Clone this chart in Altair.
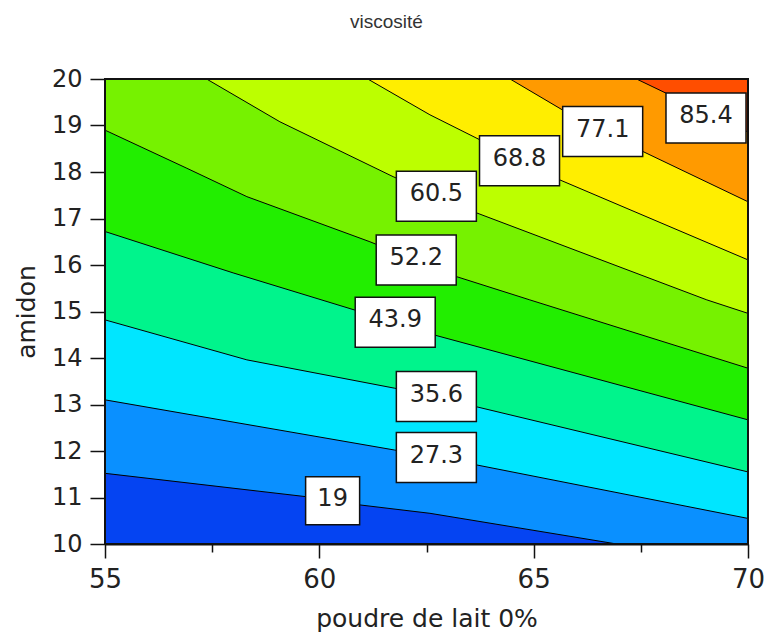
import altair as alt
import pandas as pd

chart_title = "viscosité"
x_title = "poudre de lait 0%"
y_title = "amidon"

x_ticks = [55, 57.5, 60, 62.5, 65, 67.5, 70]
y_ticks = [10, 10.5, 11, 11.5, 12, 12.5, 13, 13.5, 14, 14.5, 15, 15.5,
           16, 16.5, 17, 17.5, 18, 18.5, 19, 19.5, 20]

# contour levels (bottom to top)
levels = ["19", "27.3", "35.6", "43.9", "52.2", "60.5", "68.8", "77.1", "85.4"]

# contour line vertices
c19_x = [55, 59.67, 60.95, 62.58, 66.94]
c19_y = [11.52, 11.02, 10.84, 10.66, 10.0]
c27_x = [55, 61.76, 63.67, 70]
c27_y = [13.10, 12.02, 11.70, 10.55]
c35_x = [55, 58.31, 61.76, 63.67, 70]
c35_y = [14.82, 13.96, 13.35, 12.95, 11.55]
c43_x = [55, 57.99, 60.83, 62.70, 70]
c43_y = [16.72, 15.83, 15.03, 14.49, 12.67]
c52_x = [55, 56.91, 58.31, 61.18, 63.20, 64.91, 70]
c52_y = [18.90, 18.08, 17.47, 16.50, 15.75, 15.25, 13.78]
c60_x = [57.37, 59.08, 61.72, 63.67, 69.04, 70]
c60_y = [20.0, 19.08, 17.90, 17.12, 15.25, 14.96]
c68_x = [61.13, 62.58, 63.75, 65.61, 70]
c68_y = [20.0, 19.23, 18.69, 17.83, 16.11]
c77_x = [64.45, 65.68, 67.55, 70]
c77_y = [20.0, 19.33, 18.44, 17.36]
c85_x = [67.40, 68.10, 70]
c85_y = [20.0, 19.69, 18.86]

# label box centres
label_x = [60.31, 62.73, 62.73, 61.77, 62.26, 62.73, 64.67, 66.61, 69.02]
label_y = [10.93, 11.86, 13.17, 14.77, 16.11, 17.48, 18.24, 18.87, 19.16]

# band colours, from lowest band to highest band
band_colors = ["#0544f2", "#0a90ff", "#00e6ff", "#00f48c", "#22ee00",
               "#76f200", "#bcff00", "#ffee00", "#ff9a00", "#ff4e00"]

lines_x = [c19_x, c27_x, c35_x, c43_x, c52_x, c60_x, c68_x, c77_x, c85_x]
lines_y = [c19_y, c27_y, c35_y, c43_y, c52_y, c60_y, c68_y, c77_y, c85_y]

FONT = "DejaVu Sans"

x_axis = alt.Axis(
    values=x_ticks,
    labelExpr="datum.value % 5 === 0 ? format(datum.value, 'd') : ''",
    tickSize={"condition": {"test": "datum.value % 5 === 0", "value": 14}, "value": 8},
    labelFontSize=26, labelFont=FONT, labelColor="#222", labelPadding=8,
    labelFlush=False, labelOverlap=False, grid=False,
    titleFontSize=25, titleFont=FONT, titleFontWeight="normal", titleColor="#222",
    titlePadding=14, domainColor="#111", domainWidth=2, tickColor="#111", tickWidth=1.5,
)
y_axis = alt.Axis(
    values=y_ticks,
    labelExpr="datum.value % 1 === 0 ? format(datum.value, 'd') : ''",
    tickSize={"condition": {"test": "datum.value % 1 === 0", "value": 15}, "value": 9},
    labelFontSize=24, labelFont=FONT, labelColor="#222", labelPadding=8,
    labelFlush=False, labelOverlap=False, grid=False,
    titleFontSize=25, titleFont=FONT, titleFontWeight="normal", titleColor="#222",
    titlePadding=12, domainColor="#111", domainWidth=2, tickColor="#111", tickWidth=1.5,
)

X = alt.X("x:Q", scale=alt.Scale(domain=[55, 70], nice=False, zero=False), axis=x_axis, title=x_title)
Y = alt.Y("y:Q", scale=alt.Scale(domain=[10, 20], nice=False, zero=False), axis=y_axis, title=y_title, stack=None)

layers = []
# top band: whole plot area, painted first
layers.append(
    alt.Chart(pd.DataFrame({"x": [55]})).mark_rect(color=band_colors[-1])
    .encode(x=alt.datum(55), x2=alt.datum(70), y=alt.datum(10), y2=alt.datum(20))
)
# filled bands painted from the top band downwards
for i in range(len(levels) - 1, -1, -1):
    xs = list(lines_x[i])
    ys = list(lines_y[i])
    if xs[0] > 55:
        xs = [55] + xs
        ys = [20] + ys
    df = pd.DataFrame({"x": xs, "y": ys})
    layers.append(
        alt.Chart(df).mark_area(color=band_colors[i], opacity=1, line=False)
        .encode(x=X, y=Y, y2=alt.datum(10))
    )

rows = []
for lev, xs, ys in zip(levels, lines_x, lines_y):
    for xv, yv in zip(xs, ys):
        rows.append({"level": lev, "x": xv, "y": yv})
lines_df = pd.DataFrame(rows)
layers.append(
    alt.Chart(lines_df).mark_line(color="#000", strokeWidth=1)
    .encode(x=X, y=Y, detail="level:N")
)

# plot frame on top of the filled bands
layers.append(
    alt.Chart(pd.DataFrame({"x": [55]})).mark_rect(fill=None, stroke="#111", strokeWidth=2)
    .encode(x=alt.datum(55), x2=alt.datum(70), y=alt.datum(10), y2=alt.datum(20))
)

lab_df = pd.DataFrame({"x": label_x, "y": label_y, "label": levels})
wide = lab_df[lab_df["label"].str.len() > 2]
narrow = lab_df[lab_df["label"].str.len() <= 2]
layers.append(
    alt.Chart(wide).mark_rect(fill="white", stroke="#111", strokeWidth=1.5,
                              xOffset=-40, x2Offset=40, yOffset=-25, y2Offset=25)
    .encode(x=X, x2="x:Q", y=Y, y2="y:Q")
)
layers.append(
    alt.Chart(narrow).mark_rect(fill="white", stroke="#111", strokeWidth=1.5,
                                xOffset=-27, x2Offset=27, yOffset=-24, y2Offset=24)
    .encode(x=X, x2="x:Q", y=Y, y2="y:Q")
)
layers.append(
    alt.Chart(lab_df).mark_text(font=FONT, fontSize=24, color="#222", baseline="middle", align="center", dy=-2)
    .encode(x=X, y=Y, text="label:N")
)

chart = alt.layer(*layers).properties(
    width=643, height=465,
    background="white",
    title=alt.Title(chart_title, font="Liberation Sans", fontSize=19, fontWeight="normal",
                    color="#333", anchor="middle", dx=-40, offset=20, baseline="alphabetic"),
    autosize=alt.AutoSizeParams(type="none"),
    padding={"left": 105, "top": 79, "right": 19, "bottom": 90},
).configure_view(
    stroke="#111", strokeWidth=2
)

chart.save("out.html", embed_options={"renderer": "svg", "actions": False})
